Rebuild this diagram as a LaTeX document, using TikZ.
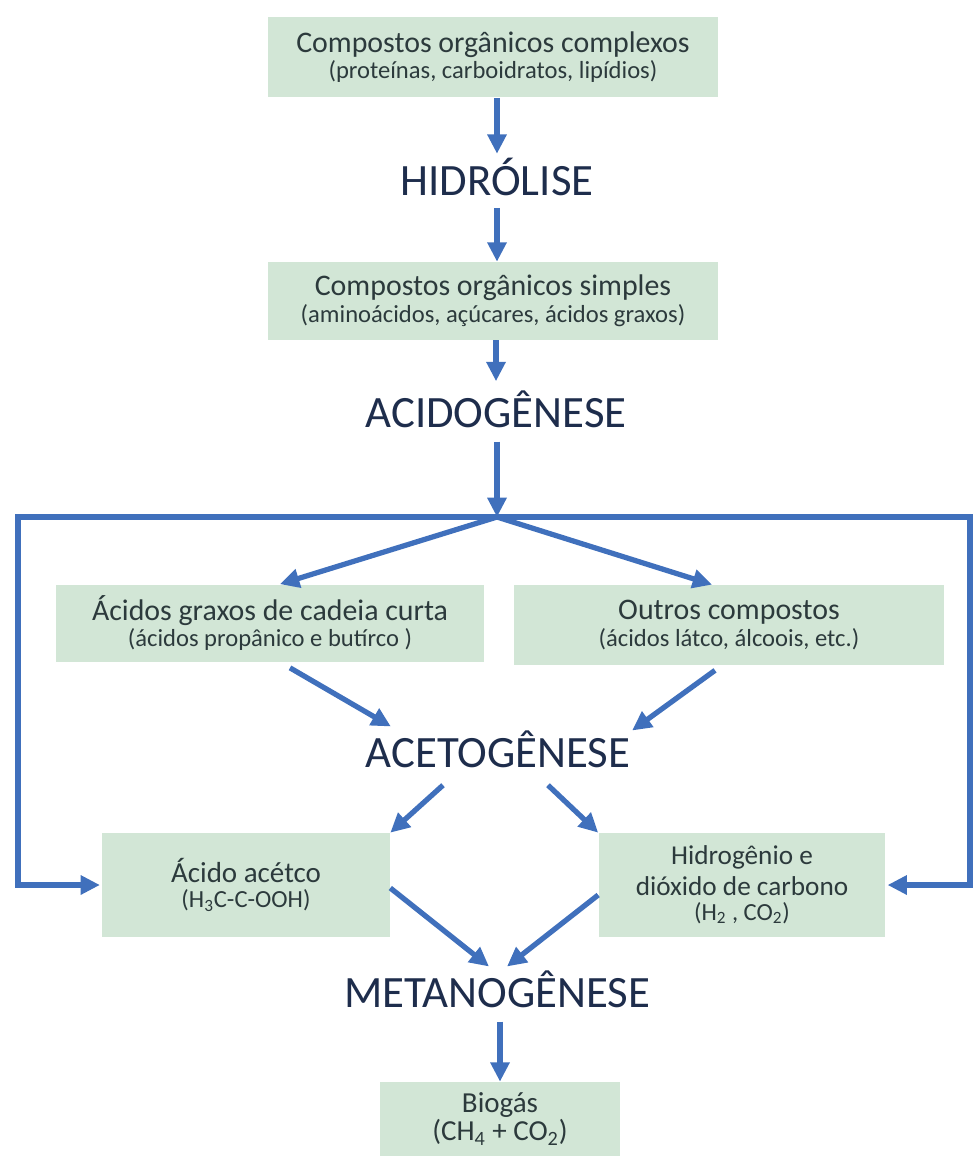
\documentclass[tikz,border=0pt]{standalone}
\usepackage{fontspec}
\setmainfont{Carlito}
\usetikzlibrary{arrows.meta,calc}

\definecolor{boxgreen}{HTML}{D2E6D6}
\definecolor{flowblue}{HTML}{4070BC}
\definecolor{boxtext}{HTML}{2C3A3C}
\definecolor{phasetext}{HTML}{1E2D4C}

\newcommand{\btitle}{\fontsize{17}{19}\selectfont}
\newcommand{\bsub}{\fontsize{14}{16}\selectfont}

\tikzset{
  stage/.style={fill=boxgreen, text=boxtext, align=center, inner sep=2pt},
  phase/.style={text=phasetext, font=\fontsize{25.5}{28}\selectfont, inner sep=2pt, anchor=base},
  flow/.style={flowblue, line width=3pt, -{Triangle[length=11pt,width=10.5pt]}},
}

\begin{document}
\begin{tikzpicture}[x=0.02cm, y=-0.02cm]
\useasboundingbox (0,0) rectangle (976,1156);

% ===== upper chain =====
\node[stage, minimum width=9cm, minimum height=1.62cm] (complexos) at (493,57)
  {\btitle Compostos orgânicos complexos\\[1pt]\bsub (proteínas, carboidratos, lipídios)};
\node[phase] (hidrolise) at (497,195) {HIDRÓLISE};
\node[stage, minimum width=9cm, minimum height=1.56cm] (simples) at (493,301)
  {\btitle Compostos orgânicos simples\\[1pt]\bsub (aminoácidos, açúcares, ácidos graxos)};
\node[phase] (acidogenese) at (496,427) {ACIDOGÊNESE};
\coordinate (junc) at (497,517);

\draw[flow] (complexos.south -| hidrolise.north) -- (hidrolise.north);
\draw[flow, shorten <=5pt] (hidrolise.south) -- (hidrolise.south |- simples.north);
\draw[flow, shorten >=3pt] (simples.south -| acidogenese.north) -- (acidogenese.north);
\draw[flow, shorten <=6pt] (acidogenese.south -| junc) -- (junc);

% ===== middle =====
\node[stage, minimum width=8.56cm, minimum height=1.54cm] (graxos) at (270,623)
  {\btitle Ácidos graxos de cadeia curta\\[1pt]\bsub (ácidos propânico e butírco )};
\node[stage, minimum width=8.6cm, minimum height=1.6cm] (outros) at (729,625)
  {\btitle Outros compostos\\[1pt]\bsub (ácidos látco, álcoois, etc.)};
\node[phase] (acetogenese) at (498,767) {ACETOGÊNESE};

\draw[flow] (junc) -- ($(graxos.north)+(10,0)$);
\draw[flow] (junc) -- ($(outros.north)+(-17,0)$);
\draw[flow] ($(graxos.south)+(20,6)$) -- ($(acetogenese.north west)+(29,0)$);
\draw[flow] ($(outros.south)+(-14,5)$) -- ($(acetogenese.north east)+(-2,4)$);

% ===== lower =====
\node[stage, minimum width=5.76cm, minimum height=2.08cm] (acetico) at (246,885)
  {\fontsize{16.5}{19}\selectfont Ácido acétco\\[2pt]\bsub (H\textsubscript{3}C-C-OOH)};
\node[stage, minimum width=5.74cm, minimum height=2.08cm] (hidrogenio) at (742,885)
  {\fontsize{15.5}{19}\selectfont Hidrogênio e\\[3pt]\fontsize{15.5}{19}\selectfont dióxido de carbono\\[2pt]\bsub (H\textsubscript{2} , CO\textsubscript{2})};
\node[phase] (metanogenese) at (497,1007) {METANOGÊNESE};
\node[stage, minimum width=4.8cm, minimum height=1.48cm] (biogas) at (500,1119)
  {\fontsize{16.5}{19}\selectfont Biogás\\\fontsize{16.5}{19}\selectfont (CH\textsubscript{4} + CO\textsubscript{2})};

\draw[flow] ($(acetogenese.south)+(-55,14)$) -- (acetico.north east);
\draw[flow] ($(acetogenese.south)+(50,14)$) -- (hidrogenio.north west);
\draw[flow] ($(acetico.east)+(0,3)$) -- ($(metanogenese.north)+(-8,0)$);
\draw[flow] ($(hidrogenio.west)+(0,10)$) -- ($(metanogenese.north)+(10,0)$);
\draw[flow, shorten <=6pt] (metanogenese.south -| biogas.north) -- (biogas.north);

% ===== feedback lines =====
\coordinate (fbleft) at (18,885);
\coordinate (fbright) at (970,885);
\draw[flow, shorten >=1pt] (junc) -| (fbleft) -- (acetico.west);
\draw[flow, shorten >=1pt] (junc) -| (fbright) -- (hidrogenio.east);

\end{tikzpicture}
\end{document}
